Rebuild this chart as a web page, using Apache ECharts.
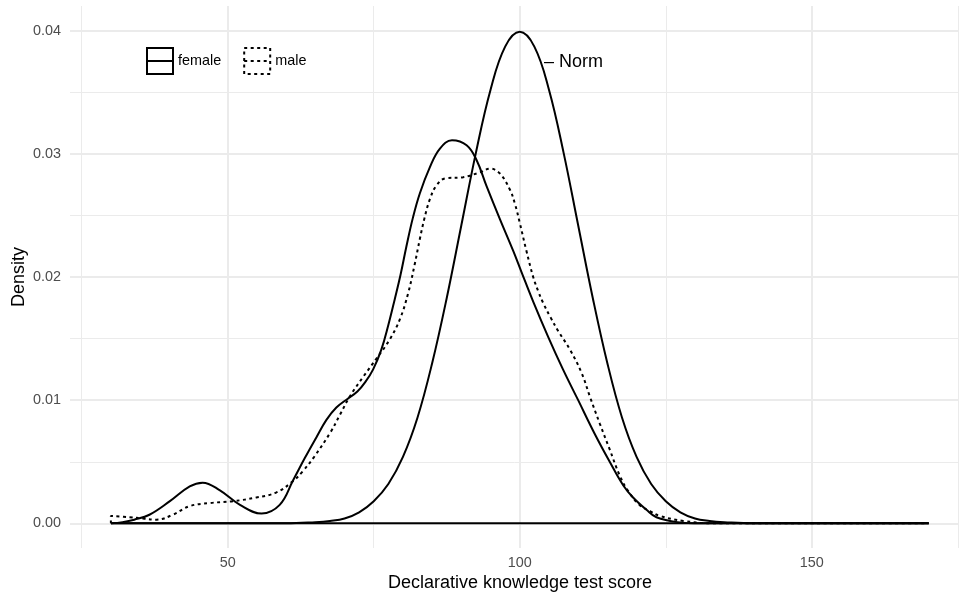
<!DOCTYPE html>
<html>
<head>
<meta charset="utf-8">
<script src="https://cdn.jsdelivr.net/npm/echarts@6/dist/echarts.min.js"></script>
<style>
  html, body { margin: 0; padding: 0; background: #fff; }
  #chart { width: 959px; height: 597px; }
</style>
</head>
<body>
<div id="chart"></div>
<script>
// density curves: [score, density]
const femaleDensity = [
  [30, 0], [32, 0.0001], [34, 0.0003], [36.6, 0.0007], [40.1, 0.0018], [43.5, 0.0030],
  [45.7, 0.0033], [48.6, 0.0027], [52.1, 0.0015], [55.8, 0.0008], [58.9, 0.0015],
  [61.2, 0.0035], [63.2, 0.0053], [65.2, 0.0070], [66.9, 0.0084], [68.6, 0.0094],
  [70.5, 0.0101], [72.2, 0.0107], [73.6, 0.0115], [74.9, 0.0125], [76.3, 0.0141],
  [77.5, 0.0161], [78.6, 0.0182], [79.6, 0.0202], [80.6, 0.0225], [81.7, 0.0248],
  [82.9, 0.0268], [84.6, 0.0289], [86.3, 0.0304], [88.4, 0.0311], [90.9, 0.0307],
  [92.6, 0.0295], [94.3, 0.0274], [96.6, 0.0247], [98.9, 0.0221], [100.3, 0.0204],
  [102.3, 0.0180], [104.9, 0.0151], [107.4, 0.0125], [110.0, 0.0100], [112.8, 0.0073],
  [115.4, 0.0050], [117.7, 0.0031], [119.4, 0.0021], [121.7, 0.0011], [123.4, 0.0005],
  [127, 0.0001], [131, 0], [170, 0]
]
const maleDensity = [
  [30, 0], [30, 0.0006], [33.2, 0.0005], [35.5, 0.0004], [37.8, 0.0003], [40.6, 0.0007],
  [43.5, 0.0014], [46.9, 0.00165], [50.9, 0.0018], [54.9, 0.0021], [58.3, 0.0025],
  [61.1, 0.0034], [62.8, 0.0042], [64.8, 0.0054], [67.6, 0.0074], [69.2, 0.0088],
  [70.9, 0.0103], [73.2, 0.0119], [75.5, 0.0134], [77.7, 0.0149], [79.5, 0.0166],
  [80.9, 0.0187], [82.0, 0.0210], [82.9, 0.0231], [83.7, 0.0248], [84.6, 0.0263],
  [85.7, 0.0274], [87.2, 0.0280], [90.3, 0.0281], [93.2, 0.0285], [94.9, 0.0288],
  [96.6, 0.0284], [98.3, 0.0271], [99.2, 0.0259], [100.0, 0.0244], [101.1, 0.0222],
  [102.3, 0.0200], [103.2, 0.0188], [104.0, 0.0179], [105.3, 0.0167], [106.6, 0.0156],
  [108.6, 0.0141], [110.6, 0.0122], [112.0, 0.0103], [113.7, 0.0081], [115.4, 0.0060],
  [117.1, 0.0039], [118.6, 0.0026], [120.5, 0.0015], [122.3, 0.0010], [124.0, 0.0006],
  [128, 0.0002], [133, 0], [170, 0]
]
const normDensity = [
  [30, 0], [60, 0], [65, 0.0001], [67.5, 0.0002], [70, 0.0004], [72.5, 0.0009],
  [75, 0.0018], [77.5, 0.0032], [80, 0.0054], [82.5, 0.0086], [85, 0.0130],
  [87.5, 0.0183], [90, 0.0242], [92.5, 0.0301], [95, 0.0352], [97.5, 0.0387],
  [100, 0.0399], [102.5, 0.0387], [105, 0.0352], [107.5, 0.0301], [110, 0.0242],
  [112.5, 0.0183], [115, 0.0130], [117.5, 0.0086], [120, 0.0054], [122.5, 0.0032],
  [125, 0.0018], [127.5, 0.0009], [130, 0.0004], [132.5, 0.0002], [135, 0.0001],
  [140, 0], [170, 0]
]
// bottom edge of the density polygons
const baseline = [[30, 0], [170, 0]]

const xMajor = [50, 100, 150]
const xMinor = [25, 75, 125, 175]
const yMajor = [0, 0.01, 0.02, 0.03, 0.04]
const yMinor = [0.005, 0.015, 0.025, 0.035]

const FONT = 'Liberation Sans, Arial, Helvetica, sans-serif'
const GRID = '#EBEBEB'
const BOX = 'path://M0,0H26V26H0ZM0,13H26'

const chart = echarts.init(document.getElementById('chart'), null, { renderer: 'canvas' })

function lineSeries(name, data, type) {
  return {
    name, type: 'line', data,
    xAxisIndex: 0, yAxisIndex: 0,
    symbol: 'none', smooth: 0.4,
    lineStyle: { color: '#000', width: 2, type },
    silent: true, animation: false
  }
}

chart.setOption({
  animation: false,
  grid: { left: 70, right: 0, top: 6, bottom: 49, containLabel: false, outerBoundsMode: 'none' },
  legend: {
    left: 141, top: 42,
    itemWidth: 26, itemHeight: 26, itemGap: 22,
    selectedMode: false,
    textStyle: { fontFamily: FONT, fontSize: 14.4, color: '#000' },
    data: [
      { name: 'female', icon: BOX,
        itemStyle: { color: 'transparent', borderColor: '#000', borderWidth: 2 } },
      { name: 'male', icon: BOX,
        itemStyle: { color: 'transparent', borderColor: '#000', borderWidth: 2, borderType: [3, 3.5] } }
    ]
  },
  xAxis: [
    {
      type: 'value', min: 23, max: 175.2,
      name: 'Declarative knowledge test score', nameLocation: 'middle', nameGap: 26,
      nameMoveOverlap: false,
      nameTextStyle: { fontFamily: FONT, fontSize: 18, color: '#000', padding: [0, 0, 0, 11] },
      axisLine: { show: false },
      axisTick: { show: false, customValues: xMajor },
      axisLabel: { customValues: xMajor, margin: 8, fontFamily: FONT, fontSize: 14.4, color: '#4D4D4D' },
      splitLine: { show: true, lineStyle: { color: GRID, width: 2 } }
    },
    {
      type: 'value', min: 23, max: 175.2, position: 'top',
      axisLine: { show: false },
      axisTick: { show: false, customValues: xMinor },
      axisLabel: { show: false },
      splitLine: { show: true, lineStyle: { color: GRID, width: 1 } }
    }
  ],
  yAxis: [
    {
      type: 'value', min: -0.002, max: 0.042,
      name: 'Density', nameLocation: 'middle', nameGap: 42,
      nameMoveOverlap: false,
      nameTextStyle: { fontFamily: FONT, fontSize: 18, color: '#000' },
      axisLine: { show: false },
      axisTick: { show: false, customValues: yMajor },
      axisLabel: {
        customValues: yMajor, margin: 9, fontFamily: FONT, fontSize: 14.4, color: '#4D4D4D',
        formatter: v => v.toFixed(2)
      },
      splitLine: { show: true, lineStyle: { color: GRID, width: 2 } }
    },
    {
      type: 'value', min: -0.002, max: 0.042, position: 'right',
      axisLine: { show: false },
      axisTick: { show: false, customValues: yMinor },
      axisLabel: { show: false },
      splitLine: { show: true, lineStyle: { color: GRID, width: 1 } }
    }
  ],
  graphic: [
    {
      type: 'text', left: 544, top: 53,
      style: { text: '\u2013 Norm', fontFamily: FONT, fontSize: 18, fill: '#000' }
    }
  ],
  series: [
    lineSeries('baseline', baseline, 'solid'),
    lineSeries('female', femaleDensity, 'solid'),
    lineSeries('male', maleDensity, [3, 3.5]),
    lineSeries('Norm', normDensity, 'solid')
  ]
})
</script>
</body>
</html>
